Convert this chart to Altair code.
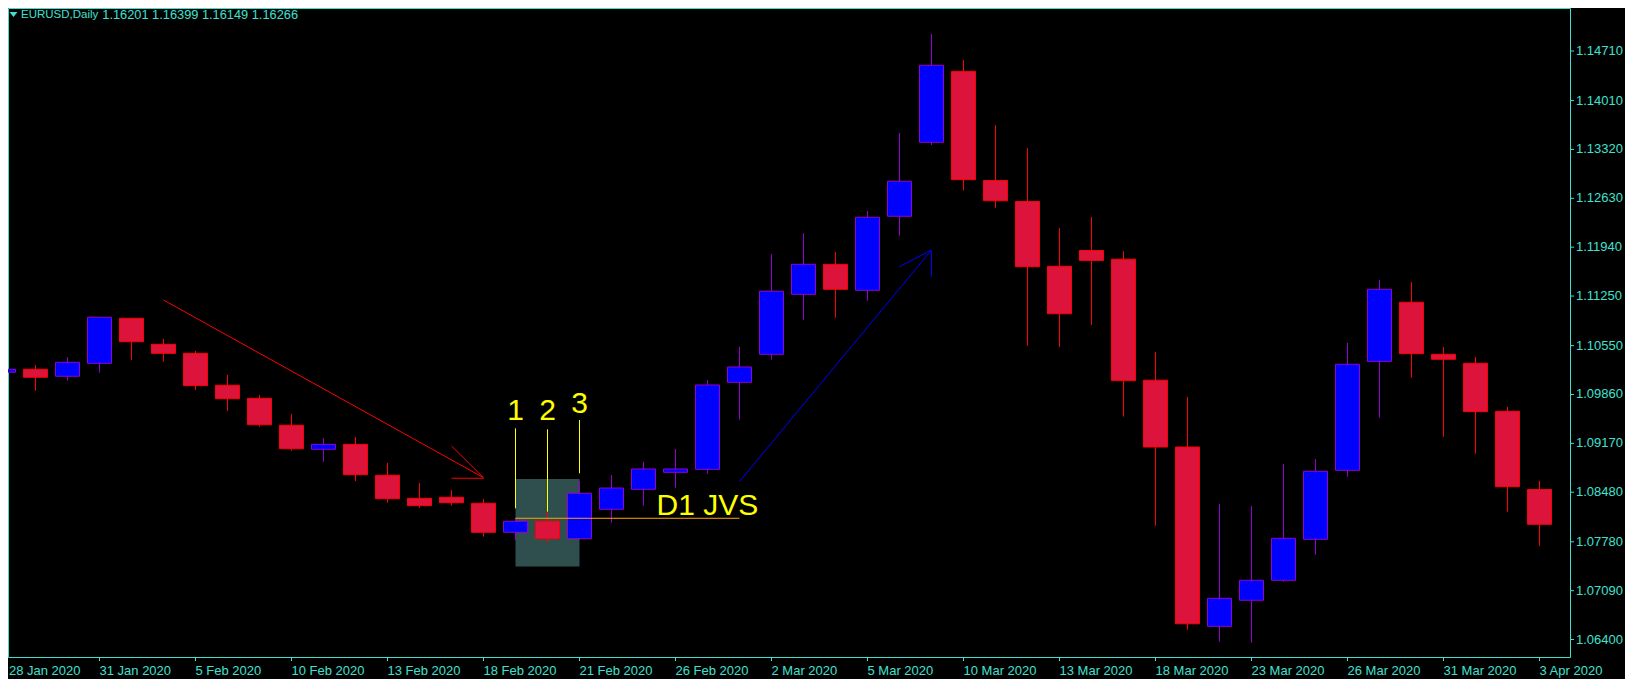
import pandas as pd
import altair as alt

# ---------------- data ----------------
dates = ["2020-01-28", "2020-01-29", "2020-01-30", "2020-01-31", "2020-02-03", "2020-02-04",
         "2020-02-05", "2020-02-06", "2020-02-07", "2020-02-10", "2020-02-11", "2020-02-12",
         "2020-02-13", "2020-02-14", "2020-02-17", "2020-02-18", "2020-02-19", "2020-02-20",
         "2020-02-21", "2020-02-24", "2020-02-25", "2020-02-26", "2020-02-27", "2020-02-28",
         "2020-03-02", "2020-03-03", "2020-03-04", "2020-03-05", "2020-03-06", "2020-03-09",
         "2020-03-10", "2020-03-11", "2020-03-12", "2020-03-13", "2020-03-16", "2020-03-17",
         "2020-03-18", "2020-03-19", "2020-03-20", "2020-03-23", "2020-03-24", "2020-03-25",
         "2020-03-26", "2020-03-27", "2020-03-30", "2020-03-31", "2020-04-01", "2020-04-02",
         "2020-04-03"]

opens = [1.10174, 1.10216, 1.10117, 1.10300, 1.10936, 1.10569, 1.10441, 1.09990, 1.09806, 1.09425,
         1.09086, 1.09156, 1.08719, 1.08394, 1.08408, 1.08323, 1.07914, 1.08069, 1.07824, 1.08239,
         1.08521, 1.08761, 1.08803, 1.10032, 1.10427, 1.11274, 1.11698, 1.11331, 1.12376, 1.13421,
         1.14422, 1.12881, 1.12585, 1.11670, 1.11893, 1.11770, 1.10062, 1.09118, 1.06586, 1.06954,
         1.07236, 1.07815, 1.08789, 1.10328, 1.11162, 1.10427, 1.10300, 1.09622, 1.08518]
highs = [1.10244, 1.10276, 1.10385, 1.10955, 1.10940, 1.10643, 1.10474, 1.10135, 1.09853, 1.09584,
         1.09245, 1.09260, 1.08892, 1.08610, 1.08511, 1.08384, 1.08120, 1.08205, 1.08638, 1.08723,
         1.08911, 1.09090, 1.10064, 1.10533, 1.11844, 1.12136, 1.11872, 1.12451, 1.13552, 1.14950,
         1.14584, 1.13662, 1.13339, 1.12211, 1.12368, 1.11882, 1.10458, 1.09827, 1.08314, 1.08285,
         1.08878, 1.08949, 1.10587, 1.11476, 1.11448, 1.10530, 1.10389, 1.09683, 1.08641]
lows = [1.09970, 1.09913, 1.10055, 1.10168, 1.10347, 1.10323, 1.09923, 1.09627, 1.09405, 1.09066,
        1.08911, 1.08638, 1.08332, 1.08261, 1.08290, 1.07852, 1.07805, 1.07767, 1.07810, 1.08050,
        1.08290, 1.08544, 1.08741, 1.09504, 1.10351, 1.10916, 1.10944, 1.11184, 1.12102, 1.13383,
        1.12742, 1.12496, 1.10547, 1.10530, 1.10842, 1.09548, 1.08007, 1.06539, 1.06369, 1.06355,
        1.07216, 1.07598, 1.08699, 1.09532, 1.10097, 1.09264, 1.09024, 1.08205, 1.07720]
closes = [1.10216, 1.10103, 1.10314, 1.10950, 1.10605, 1.10441, 1.09984, 1.09800, 1.09433, 1.09094,
          1.09156, 1.08727, 1.08388, 1.08290, 1.08332, 1.07914, 1.08069, 1.07824, 1.08465, 1.08539,
          1.08808, 1.08808, 1.09994, 1.10248, 1.11317, 1.11698, 1.11345, 1.12362, 1.12870, 1.14508,
          1.12893, 1.12596, 1.11664, 1.11000, 1.11753, 1.10056, 1.09118, 1.06622, 1.06982, 1.07236,
          1.07829, 1.08775, 1.10286, 1.11345, 1.10436, 1.10357, 1.09617, 1.08558, 1.08027]

axis_dates = ["28 Jan 2020", "31 Jan 2020", "5 Feb 2020", "10 Feb 2020", "13 Feb 2020",
              "18 Feb 2020", "21 Feb 2020", "26 Feb 2020", "2 Mar 2020", "5 Mar 2020",
              "10 Mar 2020", "13 Mar 2020", "18 Mar 2020", "23 Mar 2020", "26 Mar 2020",
              "31 Mar 2020", "3 Apr 2020"]
axis_date_bars = list(range(0, 49, 3))
price_ticks = [1.06400, 1.07090, 1.07780, 1.08480, 1.09170, 1.09860, 1.10550,
               1.11250, 1.11940, 1.12630, 1.13320, 1.14010, 1.14710]

title_symbol = "EURUSD,Daily"
title_quote = "1.16201 1.16399 1.16149 1.16266"

# shaded box (bar range, price range)
box_bars = [16, 18]
box_prices = [1.08666, 1.07430]

# down arrow segments
down_x1 = [5, 14, 14]
down_y1 = [1.11194, 1.09133, 1.08677]
down_x2 = [15, 15, 15]
down_y2 = [1.08685, 1.08685, 1.08677]

# up arrow segments
up_x1 = [23, 28, 29]
up_y1 = [1.08631, 1.11664, 1.11880]
up_x2 = [29, 29, 29]
up_y2 = [1.11900, 1.11900, 1.11523]

# numbered markers
marker_bars = [16, 17, 18]
marker_labels = ["1", "2", "3"]
marker_text_prices = [1.09500, 1.09500, 1.09603]
marker_line_top = [1.09382, 1.09368, 1.09500]
marker_line_bottom = [1.08253, 1.08205, 1.08747]

# level line and note
level_bars = [16, 23]
level_prices = [1.08112, 1.08112]
note_text = ["D1 JVS"]
note_bar = [20.41]
note_price = [1.08158]

# ---------------- styling ----------------
TURQ = "#40E0D0"
BULL_FILL = "#0000FF"
BULL_LINE = "#9400D3"
BEAR_FILL = "#DC143C"
BEAR_LINE = "#FF0000"
AXIS_FONT = "Liberation Sans"
W, H = 1562, 649

x_scale = alt.Scale(domain=[0, 49], range=[-4.5, 1563.5], nice=False, zero=False)
y_scale = alt.Scale(domain=[1.061531, 1.153172], nice=False, zero=False)

df = pd.DataFrame({"date": dates, "open": opens, "high": highs, "low": lows, "close": closes})
df["idx"] = range(len(df))
df["dir"] = ["up" if c >= o else "down" for o, c in zip(opens, closes)]

dir_dom = ["up", "down"]

X = lambda f: alt.X(f, scale=x_scale, axis=None)
Y = lambda f: alt.Y(f, scale=y_scale, axis=None)

box = alt.Chart(pd.DataFrame({"b1": [box_bars[0]], "b2": [box_bars[1]],
                              "p1": [box_prices[0]], "p2": [box_prices[1]]})).mark_rect(
    fill="#2F4F4F", clip=True).encode(x=X("b1:Q"), x2="b2:Q", y=Y("p1:Q"), y2="p2:Q")

wicks = alt.Chart(df).mark_rule(strokeWidth=1, clip=True).encode(
    x=X("idx:Q"), y=Y("low:Q"), y2="high:Q",
    color=alt.Color("dir:N", scale=alt.Scale(domain=dir_dom, range=[BULL_LINE, BEAR_LINE]), legend=None))

bodies = alt.Chart(df).transform_calculate(
    left="datum.idx - 0.375", right="datum.idx + 0.375").mark_rect(strokeWidth=1, clip=True).encode(
    x=X("left:Q"), x2="right:Q", y=Y("open:Q"), y2="close:Q",
    fill=alt.Fill("dir:N", scale=alt.Scale(domain=dir_dom, range=[BULL_FILL, BEAR_FILL]), legend=None),
    stroke=alt.Stroke("dir:N", scale=alt.Scale(domain=dir_dom, range=[BULL_LINE, BEAR_LINE]), legend=None))


def segments(x1, y1, x2, y2, color):
    d = pd.DataFrame({"x1": x1, "y1": y1, "x2": x2, "y2": y2})
    return alt.Chart(d).mark_rule(color=color, strokeWidth=1, clip=True).encode(
        x=X("x1:Q"), x2="x2:Q", y=Y("y1:Q"), y2="y2:Q")


down_arrow = segments(down_x1, down_y1, down_x2, down_y2, "#FF0000")
up_arrow = segments(up_x1, up_y1, up_x2, up_y2, "#0000FF")
marker_lines = segments(marker_bars, marker_line_top, marker_bars, marker_line_bottom, "#FFFF00")
level_line = segments([level_bars[0]], [level_prices[0]], [level_bars[1]], [level_prices[1]], "#FFA500")

marker_text = alt.Chart(pd.DataFrame({"b": marker_bars, "p": marker_text_prices, "t": marker_labels})).mark_text(
    font="Liberation Sans", fontSize=30, color="#FFFF00", align="center", baseline="alphabetic").encode(
    x=X("b:Q"), y=Y("p:Q"), text="t:N")

note = alt.Chart(pd.DataFrame({"b": note_bar, "p": note_price, "t": note_text})).mark_text(
    font="Liberation Sans", fontSize=30, color="#FFFF00", align="left", baseline="alphabetic").encode(
    x=X("b:Q"), y=Y("p:Q"), text="t:N")

# ---- price axis (right) drawn from the tick list ----
ytick_df = pd.DataFrame({"p": price_ticks, "t": [f"{v:.5f}" for v in price_ticks]})
y_ticks = alt.Chart(ytick_df).mark_rule(color=TURQ, strokeWidth=1).encode(
    x=alt.value(W), x2=alt.value(W + 4), y=Y("p:Q"))
y_labels = alt.Chart(ytick_df).mark_text(
    font=AXIS_FONT, fontSize=13, color=TURQ, align="left", baseline="middle").encode(
    x=alt.value(W + 6), y=Y("p:Q"), text="t:N")

# ---- date axis (bottom) drawn from the label list ----
xtick_df = pd.DataFrame({"bar": axis_date_bars, "t": axis_dates})
x_ticks = alt.Chart(xtick_df).mark_rule(color=TURQ, strokeWidth=1).encode(
    x=X("bar:Q"), y=alt.value(H), y2=alt.value(H + 4))
x_labels = alt.Chart(xtick_df).transform_calculate(
    lx="datum.bar === 0 ? datum.bar + 0.17 : datum.bar").mark_text(
    font=AXIS_FONT, fontSize=13, color=TURQ, align="left", baseline="top").encode(
    x=X("lx:Q"), y=alt.value(H + 7.5), text="t:N")

# ---- title ----
title_df = pd.DataFrame({"sym": [title_symbol], "quote": [title_quote]})
title_sym = alt.Chart(title_df).mark_text(
    font="Liberation Sans", fontSize=11.5, color=TURQ, align="left", baseline="middle").encode(
    x=alt.value(13), y=alt.value(7.2), text="sym:N")
title_q = alt.Chart(title_df).mark_text(
    font="Liberation Sans", fontSize=12.8, color=TURQ, align="left", baseline="middle").encode(
    x=alt.value(94.3), y=alt.value(7.2), text="quote:N")
title_tri = alt.Chart(title_df).mark_point(
    shape="M -1 -0.6 L 1 -0.6 L 0 0.6 Z", filled=True, size=64, color=TURQ, opacity=1, strokeWidth=0).encode(
    x=alt.value(5.5), y=alt.value(6.5))

chart = alt.layer(
    box, wicks, bodies, down_arrow, up_arrow, marker_lines, level_line,
    marker_text, note, y_ticks, y_labels, x_ticks, x_labels, title_tri, title_sym, title_q
).properties(
    width=W, height=H,
    background="#000000",
    padding={"left": 0, "top": 0, "right": 55, "bottom": 22},
    autosize=alt.AutoSizeParams(type="none"),
).configure_view(
    stroke=TURQ, strokeWidth=1
)

chart.save("out.html", embed_options={"renderer": "svg", "actions": False})
